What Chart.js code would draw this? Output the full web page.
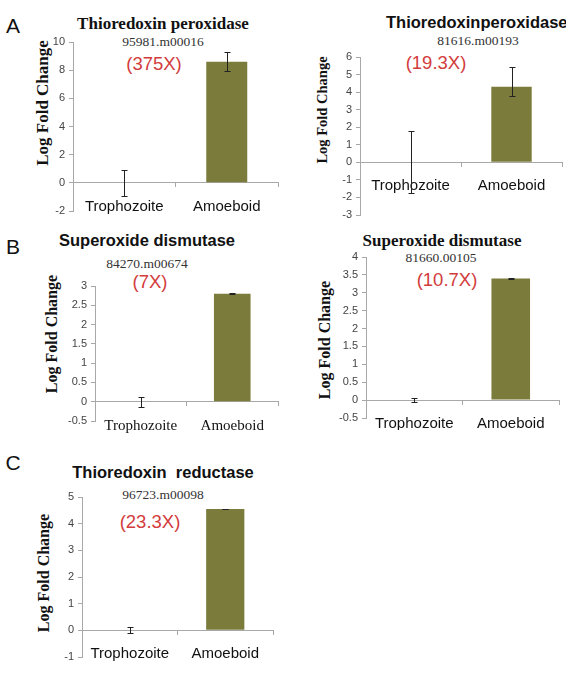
<!DOCTYPE html>
<html>
<head>
<meta charset="utf-8">
<script src="https://cdn.jsdelivr.net/npm/chart.js@4.4.1/dist/chart.umd.min.js"></script>
<style>
  body { margin: 0; width: 566px; height: 674px; background: #fff; position: relative; overflow: hidden; }
  .box { position: absolute; }
  .txt { position: absolute; white-space: pre; transform: translate(-50%, -50%); line-height: 1; }
  .sans { font-family: 'Liberation Sans', Arial, sans-serif; }
  .serif { font-family: 'Liberation Serif', 'Times New Roman', serif; }
  .title { font-weight: bold; color: #111; }
  .sub { font-size: 13.5px; color: #333; }
  .fold { font-size: 18.5px; color: #d23c3c; }
  .ylab { font-weight: bold; color: #111; transform: translate(-50%, -50%) rotate(-90deg); }
  .letter { font-size: 21px; color: #111; }
</style>
</head>
<body>

<div class="txt sans letter" style="left:13px; top:25px;">A</div>
<div class="txt sans letter" style="left:13px; top:246px;">B</div>
<div class="txt sans letter" style="left:13px; top:462px;">C</div>

<div class="txt serif title" style="left:163px; top:23px; font-size:17px;">Thioredoxin peroxidase</div>
<div class="txt serif sub" style="left:163px; top:42px;">95981.m00016</div>
<div class="txt sans fold" style="left:154px; top:64px;">(375X)</div>
<div class="txt serif ylab" style="left:42px; top:103px; font-size:17px;">Log Fold Change</div>

<div class="txt sans title" style="left:386px; top:22px; font-size:16.5px; transform: translate(0, -50%);">Thioredoxinperoxidase</div>
<div class="txt serif sub" style="left:478px; top:41px;">81616.m00193</div>
<div class="txt sans fold" style="left:436px; top:63px;">(19.3X)</div>
<div class="txt serif ylab" style="left:322px; top:110px; font-size:14.5px;">Log Fold Change</div>

<div class="txt sans title" style="left:147px; top:240px; font-size:16.5px;">Superoxide dismutase</div>
<div class="txt serif sub" style="left:147px; top:264px;">84270.m00674</div>
<div class="txt sans fold" style="left:150px; top:282px;">(7X)</div>
<div class="txt serif ylab" style="left:52px; top:334px; font-size:16px;">Log Fold Change</div>

<div class="txt serif title" style="left:442px; top:240px; font-size:17px;">Superoxide dismutase</div>
<div class="txt serif sub" style="left:441px; top:258px;">81660.00105</div>
<div class="txt sans fold" style="left:447px; top:280px;">(10.7X)</div>
<div class="txt serif ylab" style="left:325px; top:340px; font-size:16px;">Log Fold Change</div>

<div class="txt sans title" style="left:163px; top:472px; font-size:16.5px;">Thioredoxin  reductase</div>
<div class="txt serif sub" style="left:163px; top:495px;">96723.m00098</div>
<div class="txt sans fold" style="left:150px; top:522px;">(23.3X)</div>
<div class="txt serif ylab" style="left:44px; top:573px; font-size:16px;">Log Fold Change</div>

<div class="box" id="boxA1"><canvas id="chartA1"></canvas></div>
<div class="box" id="boxA2"><canvas id="chartA2"></canvas></div>
<div class="box" id="boxB1"><canvas id="chartB1"></canvas></div>
<div class="box" id="boxB2"><canvas id="chartB2"></canvas></div>
<div class="box" id="boxC"><canvas id="chartC"></canvas></div>

<script>
const categories = ['Trophozoite', 'Amoeboid'];

// A: Thioredoxin peroxidase 95981.m00016
const tpx1Values = [0, 8.6];
const tpx1ErrUp = [0.92, 0.7];
const tpx1ErrDown = [0.92, 0.65];
const tpx1Ticks = [-2, 10, 2];

// A: Thioredoxinperoxidase 81616.m00193
const tpx2Values = [0, 4.3];
const tpx2ErrUp = [1.76, 1.15];
const tpx2ErrDown = [1.76, 0.5];
const tpx2Ticks = [-3, 6, 1];

// B: Superoxide dismutase 84270.m00674
const sod1Values = [0, 2.8];
const sod1ErrUp = [0.13, 0.01];
const sod1ErrDown = [0.13, 0.01];
const sod1Ticks = [-0.5, 3, 0.5];

// B: Superoxide dismutase 81660.00105
const sod2Values = [0, 3.4];
const sod2ErrUp = [0.05, 0.01];
const sod2ErrDown = [0.05, 0.01];
const sod2Ticks = [-0.5, 4, 0.5];

// C: Thioredoxin reductase 96723.m00098
const trrValues = [0, 4.55];
const trrErrUp = [0.11, 0.01];
const trrErrDown = [0.11, 0.01];
const trrTicks = [-1, 5, 1];

const sans = "'Liberation Sans', Arial, sans-serif";
const serif = "'Liberation Serif', 'Times New Roman', serif";

const errorBars = {
    id: 'errorBars',
    afterDatasetsDraw: function (chart) {
        const ctx = chart.ctx;
        const ds = chart.data.datasets[0];
        const yScale = chart.scales.y;
        ctx.save();
        ctx.strokeStyle = '#222';
        ctx.lineWidth = 1;
        chart.getDatasetMeta(0).data.forEach(function (bar, i) {
            const v = ds.data[i];
            const top = Math.round(yScale.getPixelForValue(v + ds.errUp[i])) + 0.5;
            const bot = Math.round(yScale.getPixelForValue(v - ds.errDown[i])) + 0.5;
            const x = Math.round(bar.x) + 0.5;
            ctx.beginPath();
            ctx.moveTo(x, top);
            ctx.lineTo(x, bot);
            ctx.moveTo(x - 3, top);
            ctx.lineTo(x + 3, top);
            ctx.moveTo(x - 3, bot);
            ctx.lineTo(x + 3, bot);
            ctx.stroke();
        });
        ctx.restore();
    }
};

function makePanel(name, axisLeft, axisRight, yTop, yBottom, values, errUp, errDown, ticks, labelFamily) {
    const yWidth = 30;
    const pad = 12;
    const box = document.getElementById('box' + name);
    box.style.left = (axisLeft - yWidth) + 'px';
    box.style.top = (yTop - pad) + 'px';
    box.style.width = (axisRight - axisLeft + yWidth + 6) + 'px';
    box.style.height = (yBottom - yTop + 2 * pad) + 'px';

    const config = {
        type: 'bar',
        data: {
            labels: categories,
            datasets: [{
                data: values,
                errUp: errUp,
                errDown: errDown,
                backgroundColor: '#7b7b3c',
                borderWidth: 0,
                categoryPercentage: 1,
                barPercentage: 0.4
            }]
        },
        options: {
            responsive: true,
            maintainAspectRatio: false,
            animation: false,
            devicePixelRatio: 1,
            layout: { padding: { left: 0, right: 6, top: pad, bottom: pad } },
            plugins: { legend: { display: false }, tooltip: { enabled: false }, title: { display: false } },
            scales: {
                x: {
                    position: { y: 0 },
                    grid: { display: true, drawOnChartArea: false, tickLength: 4, color: '#a8a8a8', offset: true },
                    border: { display: true, color: '#a8a8a8' },
                    ticks: { color: '#111', padding: 11, font: { family: labelFamily, size: 15 }, maxRotation: 0 }
                },
                y: {
                    min: ticks[0],
                    max: ticks[1],
                    afterFit: function (scale) { scale.width = yWidth; },
                    grid: { display: true, drawOnChartArea: false, tickLength: 4, color: '#a8a8a8' },
                    border: { display: true, color: '#a8a8a8' },
                    ticks: {
                        stepSize: ticks[2],
                        color: '#444',
                        padding: 4,
                        font: { family: sans, size: 11 },
                        callback: function (value) { return String(Math.round(value * 10) / 10); }
                    }
                }
            }
        },
        plugins: [errorBars]
    };
    return new Chart(document.getElementById('chart' + name), config);
}

makePanel('A1', 73, 278, 42, 211, tpx1Values, tpx1ErrUp, tpx1ErrDown, tpx1Ticks, sans);
makePanel('A2', 360, 562, 57, 215, tpx2Values, tpx2ErrUp, tpx2ErrDown, tpx2Ticks, sans);
makePanel('B1', 95, 278, 286, 421, sod1Values, sod1ErrUp, sod1ErrDown, sod1Ticks, serif);
makePanel('B2', 366, 559, 257, 418, sod2Values, sod2ErrUp, sod2ErrDown, sod2Ticks, sans);
makePanel('C', 82, 273, 497, 657, trrValues, trrErrUp, trrErrDown, trrTicks, sans);
</script>
</body>
</html>
